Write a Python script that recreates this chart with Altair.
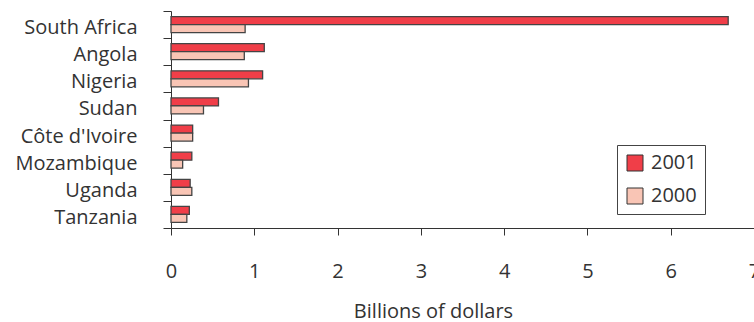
import altair as alt
import pandas as pd

countries = ["South Africa", "Angola", "Nigeria", "Sudan", "Côte d'Ivoire",
             "Mozambique", "Uganda", "Tanzania"]
years = ["2001", "2000"]
values_2001 = [6.69, 1.12, 1.10, 0.57, 0.26, 0.25, 0.23, 0.22]
values_2000 = [0.89, 0.88, 0.93, 0.39, 0.26, 0.14, 0.25, 0.19]
x_ticks = [0, 1, 2, 3, 4, 5, 6, 7]
colors = ["#f03e48", "#f9c5b5"]

rows = []
for c, a, b in zip(countries, values_2001, values_2000):
    rows.append({"country": c, "year": "2001", "value": a})
    rows.append({"country": c, "year": "2000", "value": b})
df = pd.DataFrame(rows)

FONT = "Open Sans"
TXT = "#333333"

chart = alt.Chart(df).mark_bar(
    stroke="#444444", strokeWidth=1.3
).encode(
    y=alt.Y("country:N", sort=countries, title=None,
            scale=alt.Scale(paddingInner=0, paddingOuter=0),
            axis=alt.Axis(tickBand="extent", tickSize=8, labelPadding=26,
                          labelFont=FONT, labelFontSize=20, labelColor=TXT,
                          labelBaseline="middle", labelOffset=3,
                          domainColor=TXT, tickColor=TXT, grid=False)),
    yOffset=alt.YOffset("year:N", sort=years,
                        scale=alt.Scale(paddingInner=0, paddingOuter=0.7)),
    x=alt.X("value:Q", title="Billions of dollars",
            scale=alt.Scale(domain=[0, 7], nice=False),
            axis=alt.Axis(values=x_ticks, format="d", tickSize=7, labelPadding=26,
                          labelFont=FONT, labelFontSize=20, labelColor=TXT,
                          labelFlush=False,
                          domainColor=TXT, tickColor=TXT, grid=False,
                          titleFont=FONT, titleFontSize=20, titleFontWeight="normal",
                          titleColor=TXT, titleX=262, titleY=89,
                          titleAlign="center", titleBaseline="alphabetic")),
    color=alt.Color("year:N", sort=years, title=None,
                    scale=alt.Scale(domain=years, range=colors),
                    legend=alt.Legend(orient="none", legendX=446, legendY=134,
                                      symbolType="square", symbolSize=256,
                                      symbolStrokeColor="#333333", symbolStrokeWidth=1,
                                      symbolOpacity=1,
                                      labelFont=FONT, labelFontSize=20, labelColor=TXT,
                                      labelOffset=6, rowPadding=13, padding=8,
                                      labelExpr="datum.label + '\u00a0\u00a0'",
                                      strokeColor="#444444", fillColor="white"))
).properties(
    width=583, height=217,
    padding={"left": 171, "top": 11, "right": 0, "bottom": 94},
    autosize=alt.AutoSizeParams(type="none"),
    background="white"
).configure_view(stroke=None)

chart.save("out.html", embed_options={"renderer": "svg", "actions": False})
